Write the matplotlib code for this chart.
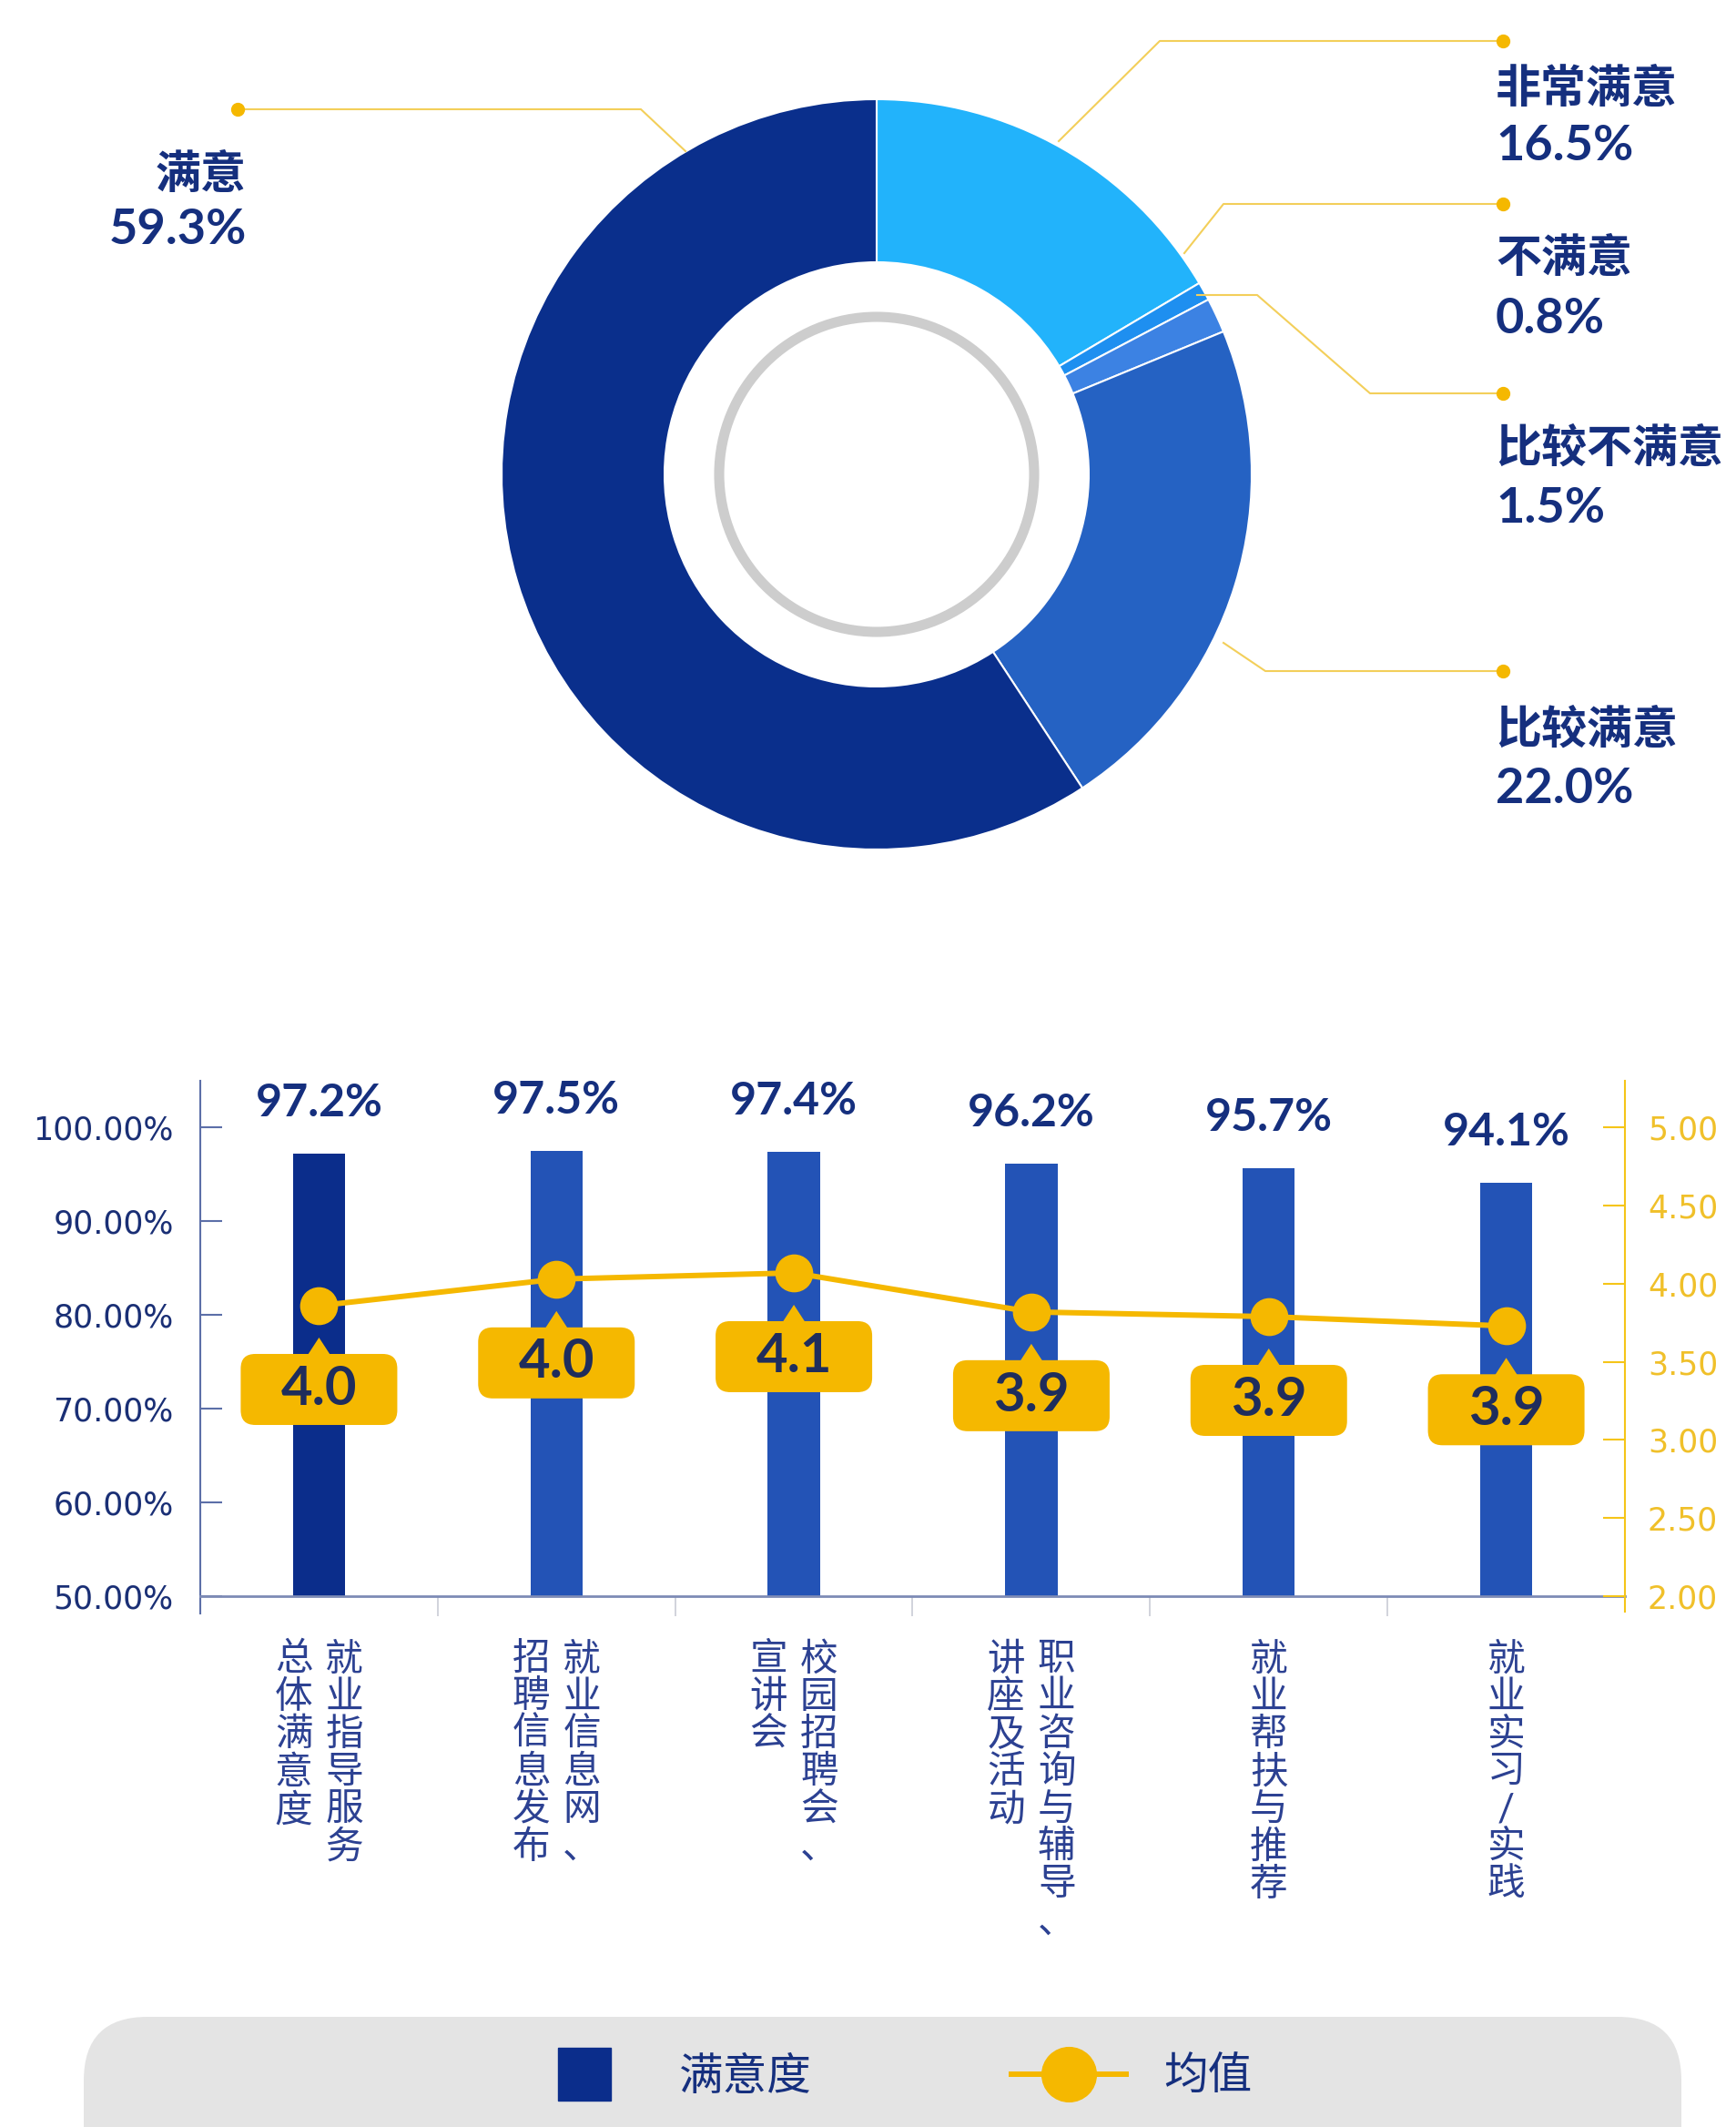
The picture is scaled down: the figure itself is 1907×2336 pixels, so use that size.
import matplotlib.pyplot as plt
import matplotlib.patches as mpatches
import matplotlib.transforms as mtransforms
from matplotlib.lines import Line2D

plt.rcParams['font.family'] = ['Lato', 'Noto Sans CJK SC', 'DejaVu Sans']

# --- donut data ---
pie_labels = ['非常满意', '不满意', '比较不满意', '比较满意', '满意']
pie_values = [16.5, 0.8, 1.5, 22.0, 59.3]
pie_colors = ['#22b3fb', '#1e8ff0', '#3c82e3', '#2562c3', '#0a2f8c']

# --- bar / line data ---
categories = [
    ['就业指导服务', '总体满意度'],
    ['就业信息网、', '招聘信息发布'],
    ['校园招聘会、', '宣讲会'],
    ['职业咨询与辅导、', '讲座及活动'],
    ['就业帮扶与推荐'],
    ['就业实习/实践'],
]
satisfaction = [97.2, 97.5, 97.4, 96.2, 95.7, 94.1]
mean_values = [3.86, 4.03, 4.07, 3.82, 3.79, 3.73]
mean_labels = ['4.0', '4.0', '4.1', '3.9', '3.9', '3.9']
left_ticks = [50, 60, 70, 80, 90, 100]
right_ticks = [2.0, 2.5, 3.0, 3.5, 4.0, 4.5, 5.0]
legend_labels = ['满意度', '均值']

navy = '#152f7e'
yellow = '#f5b800'
bar_dark = '#0b2d8b'
bar_blue = '#2353b6'

W, H = 1907, 2336
fig = plt.figure(figsize=(W / 100, H / 100), dpi=100)

# background axes in pixel coordinates (y down) for the donut + decorations
bg = fig.add_axes([0, 0, 1, 1])
cx, cy, r_out = 963, 521, 412
wedges, _ = bg.pie(pie_values, colors=pie_colors, startangle=-90, counterclock=True,
                   center=(cx, cy), radius=r_out,
                   wedgeprops=dict(width=179, edgecolor='white', linewidth=1.5))
bg.set_xlim(0, W)
bg.set_ylim(H, 0)
bg.set_aspect('auto')
bg.axis('off')
bg.add_patch(mpatches.Circle((cx, cy), 173, fill=False, ec='#cdcdcd', lw=8))

# leader lines (layout only)
leaders = {
    '非常满意': [(1163, 155), (1274, 45), (1651, 45)],
    '不满意': [(1301, 278), (1344, 224), (1651, 224)],
    '比较不满意': [(1315, 324), (1381, 324), (1505, 432), (1651, 432)],
    '比较满意': [(1344, 706), (1390, 737), (1651, 737)],
    '满意': [(753, 166), (704, 120), (261, 120)],
}
text_pos = {
    '非常满意': (1643, 97, 161, 'left'),
    '不满意': (1643, 283, 350, 'left'),
    '比较不满意': (1643, 492, 559, 'left'),
    '比较满意': (1643, 801, 867, 'left'),
    '满意': (271, 191, 253, 'right'),
}
for name, val in zip(pie_labels, pie_values):
    pts = leaders[name]
    bg.plot([p[0] for p in pts], [p[1] for p in pts], color='#f3cf5a', lw=1.5)
    bg.plot(pts[-1][0], pts[-1][1], 'o', color=yellow, ms=10)
    tx, ty1, ty2, ha = text_pos[name]
    bg.text(tx, ty1, name, ha=ha, va='center', fontsize=36, fontweight='bold', color=navy)
    bg.text(tx, ty2, f'{val:.1f}%', ha=ha, va='center', fontsize=39, fontweight='bold', color=navy)

# legend background
bg.add_patch(mpatches.FancyBboxPatch((92, 2215), 1755, 260,
                                     boxstyle='round,pad=0,rounding_size=70',
                                     fc='#e4e4e4', ec='none'))

# --- bar chart ---
ax = fig.add_axes([220 / W, (H - 1753) / H, (1785 - 220) / W, (1753 - 1187) / H])
ax.patch.set_alpha(0)
x = list(range(len(satisfaction)))
bar_colors = [bar_dark] + [bar_blue] * (len(satisfaction) - 1)
ax.bar(x, satisfaction, width=0.22, color=bar_colors, zorder=2)
ax.set_xlim(-0.5, 5.5)
ax.set_ylim(50, 105)
ax.set_yticks(left_ticks)
ax.set_yticklabels([f'{t:.2f}%' for t in left_ticks], family='DejaVu Sans')
ax.tick_params(axis='y', direction='in', length=17, width=1.5, color='#5c6fa8',
               labelcolor='#1a2f75', labelsize=25, pad=21)
ax.set_xticks([i + 0.5 for i in x[:-1]])
ax.set_xticklabels([])
ax.tick_params(axis='x', direction='out', length=16, width=1.2, color='#c9ccd6')
ax.spines['top'].set_visible(False)
ax.spines['right'].set_visible(False)
ax.spines['left'].set_color('#5c6fa8')
ax.spines['left'].set_linewidth(1.5)
ax.spines['left'].set_bounds(48.2, 105)
ax.spines['bottom'].set_color('#7d8bb5')
ax.spines['bottom'].set_linewidth(2)

for i, v in enumerate(satisfaction):
    ax.annotate(f'{v}%', xy=(i, v), xytext=(0, 40), textcoords='offset points',
                ha='center', va='center', fontsize=36, fontweight='bold', color=navy)

# category labels, written vertically
for i, cols in enumerate(categories):
    offs = [20, -20] if len(cols) == 2 else [0]
    for col, dx in zip(cols, offs):
        ax.annotate('\n'.join(col), xy=(i, 0), xycoords=ax.get_xaxis_transform(),
                    xytext=(dx, -36), textcoords='offset points', ha='center', va='top',
                    fontsize=30, fontweight='medium', color='#2c4192', linespacing=1.1)

ax2 = ax.twinx()
ax2.set_ylim(2, 5.3)
ax2.set_yticks(right_ticks)
ax2.set_yticklabels([f'{t:.2f}' for t in right_ticks], family='DejaVu Sans')
ax2.tick_params(axis='y', direction='in', length=17, width=1.5, color='#f5c518',
                labelcolor='#f0c02a', labelsize=25, pad=18)
for s in ['top', 'left', 'bottom']:
    ax2.spines[s].set_visible(False)
ax2.spines['right'].set_color('#f5c518')
ax2.spines['right'].set_linewidth(1.5)
ax2.spines['right'].set_bounds(1.9, 5.3)

ax2.plot(x, mean_values, color=yellow, lw=4.3, marker='o', ms=29, zorder=3)

# yellow callouts under each mean point
for i, (v, lab) in enumerate(zip(mean_values, mean_labels)):
    tr = fig.dpi_scale_trans + mtransforms.ScaledTranslation(i, v, ax2.transData)
    box = mpatches.FancyBboxPatch((-0.86, -1.31), 1.72, 0.78,
                                  boxstyle='round,pad=0,rounding_size=0.16',
                                  transform=tr, fc=yellow, ec='none', zorder=4)
    ax2.add_patch(box)
    tri = mpatches.Polygon([(-0.13, -0.55), (0.13, -0.55), (0, -0.35)], closed=True,
                           transform=tr, fc=yellow, ec='none', zorder=4)
    ax2.add_patch(tri)
    ax2.annotate(lab, xy=(i, v), xytext=(0, -66), textcoords='offset points',
                 ha='center', va='center', fontsize=43, fontweight='bold',
                 color='#1f2d5c', zorder=5)

# legend
handles = [Line2D([], [], marker='s', ls='none', mfc=bar_dark, mec=bar_dark, ms=42),
           Line2D([], [], color=yellow, lw=4.3, marker='o', ms=43)]
fig.legend(handles, legend_labels, loc='center', bbox_to_anchor=(977 / W, (H - 2280) / H),
           ncol=2, frameon=False, fontsize=35, handlelength=2.6, handletextpad=0.85,
           columnspacing=4.5, labelcolor=navy)

fig.savefig('out.png', dpi=100)
